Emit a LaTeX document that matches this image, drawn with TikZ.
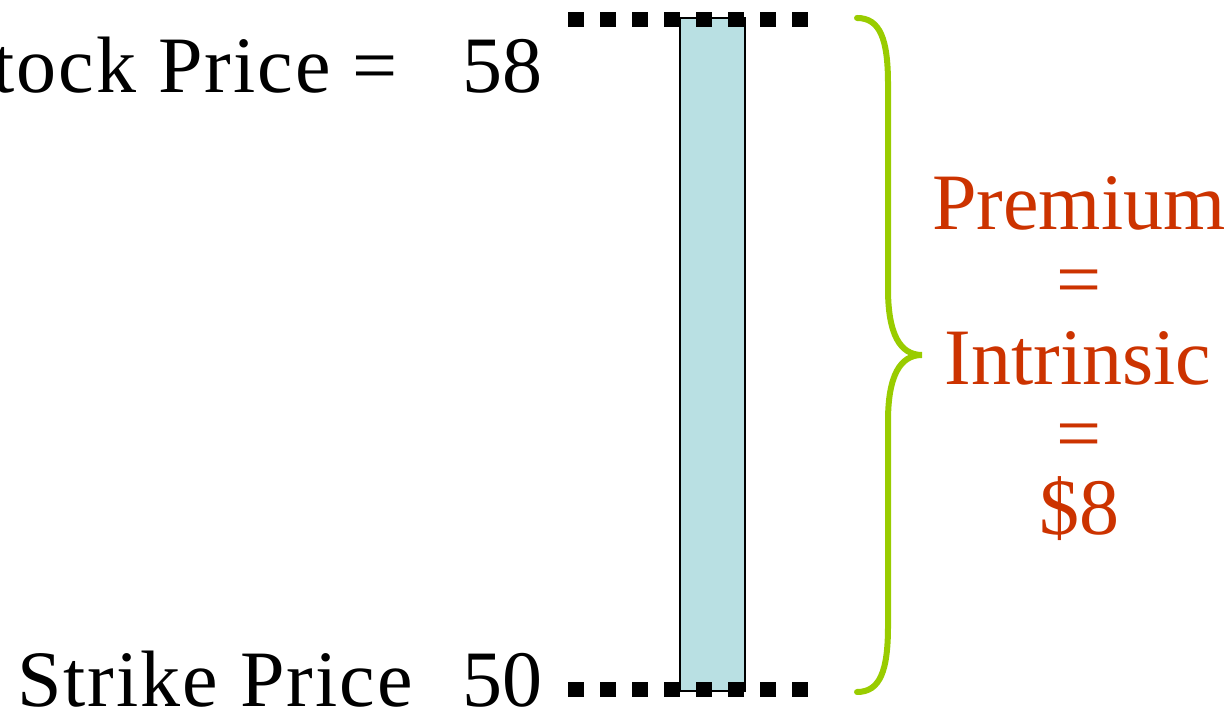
\documentclass[tikz,border=0pt]{standalone}
\usepackage{fontspec}
\setmainfont{Liberation Serif}
\newfontfamily\widefont[LetterSpace=2.5]{Liberation Serif}
\definecolor{premred}{HTML}{CC3300}
\definecolor{bracegreen}{HTML}{99CC00}
\definecolor{barblue}{HTML}{B9E0E3}
\begin{document}
\begin{tikzpicture}[x=1pt, y=1pt,
  txt/.style={inner sep=0pt, font=\fontsize{80}{82}\selectfont},
  redtxt/.style={txt, text=premred, anchor=base},
  dots/.style={line width=15pt, dash pattern=on 16pt off 16pt}]
\useasboundingbox (0,0) rectangle (1230,714);
\draw[fill=barblue, line width=1.8pt](680,23) rectangle (745,696);
\coordinate (topl) at (568,694.5);
\coordinate (topr) at (808,694.5);
\coordinate (botl) at (568,24.5);
\coordinate (botr) at (808,24.5);
\draw[dots](topl)--(topr);
\draw[dots](botl)--(botr);
\draw[bracegreen, line width=6pt, line cap=round](857,696) .. controls (880,696) and (888,675) .. (888,630) -- (888,425) .. controls (888,380) and (900,359) .. (922,359) .. controls (900,359) and (888,338) .. (888,293) -- (888,88) .. controls (888,43) and (880,22) .. (857,22);
\node[txt, anchor=base east] (stockval) at (543,621){58};
\node[txt, anchor=base east] (stock) at (398,621){\widefont Stock Price =};
\node[txt, anchor=base east] (strikeval) at (543,7){50};
\node[txt, anchor=base west] (strike) at (17,7){\widefont Strike Price};
\node[redtxt] (prem) at (1079,484){Premium};
\node[redtxt] (eqa) at (1079,407){=};
\node[redtxt] (intr) at (1078,329){Intrinsic};
\node[redtxt] (eqb) at (1079,253){=};
\node[redtxt] (amt) at (1079,179){\$8};
\end{tikzpicture}
\end{document}
